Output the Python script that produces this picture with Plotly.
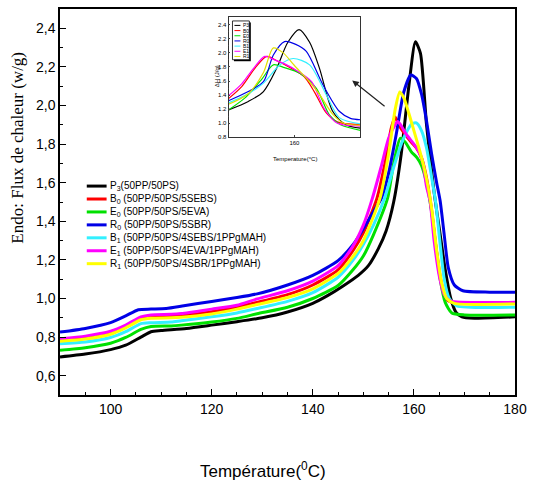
import plotly.graph_objects as go

# ---------------- main DSC data ----------------
NAMES = ["P<sub>3</sub>(50PP/50PS)",
         "B<sub>0</sub> (50PP/50PS/5SEBS)",
         "E<sub>0</sub> (50PP/50PS/5EVA)",
         "R<sub>0</sub> (50PP/50PS/5SBR)",
         "B<sub>1</sub> (50PP/50PS/4SEBS/1PPgMAH)",
         "E<sub>1</sub> (50PP/50PS/4EVA/1PPgMAH)",
         "R<sub>1</sub> (50PP/50PS/4SBR/1PPgMAH)"]
COLORS = ["#000000", "#ff0000", "#00e000", "#0000e6", "#33f0ff", "#ff00ff", "#ffff00"]

P3_T = [90, 95, 100, 103, 106, 108, 110, 115, 120, 125, 130, 135, 140, 143, 146, 149, 151, 153, 154.5, 156,
        157.5, 159, 160.3, 161.3, 162.5, 164, 165.1, 166.2, 167.3, 168.3, 169.5, 172, 180]
P3_V = [0.697, 0.712, 0.735, 0.758, 0.800, 0.828, 0.834, 0.845, 0.862, 0.88, 0.90, 0.93, 0.975, 1.016, 1.065,
        1.12, 1.17, 1.26, 1.35, 1.50, 1.75, 2.10, 2.33, 2.27, 1.90, 1.55, 1.35, 1.15, 1.0, 0.93, 0.905, 0.898, 0.905]

B0_T = [90, 95, 100, 103, 106, 108, 112, 114, 120, 125, 129, 135, 140, 145, 148, 150, 152.7, 154.5, 155.5, 156.3,
        157, 158, 159.5, 160.5, 161.5, 162.3, 163.4, 164.3, 165.3, 166.3, 167.5, 180]
B0_V = [0.785, 0.798, 0.822, 0.852, 0.895, 0.905, 0.908, 0.913, 0.932, 0.955, 0.98, 1.02, 1.07, 1.148, 1.25, 1.34,
        1.52, 1.73, 1.88, 1.94, 1.90, 1.86, 1.81, 1.78, 1.73, 1.65, 1.48, 1.28, 1.10, 1.0, 0.98, 0.975]

E0_T = [90, 95, 100, 103, 106, 108, 112, 114, 120, 125, 129, 135, 140, 145, 148, 150, 152, 154.8, 156, 157.3,
        158.3, 159.5, 160.6, 161.5, 162.5, 163.5, 164.3, 165.2, 166.2, 167.5, 170, 180]
E0_V = [0.732, 0.745, 0.768, 0.798, 0.84, 0.855, 0.858, 0.862, 0.878, 0.897, 0.921, 0.955, 1.0, 1.067, 1.15, 1.22,
        1.33, 1.52, 1.70, 1.83, 1.81, 1.76, 1.73, 1.69, 1.60, 1.45, 1.28, 1.10, 0.98, 0.925, 0.915, 0.915]

R0_T = [90, 95, 100, 103, 105.5, 108, 111, 114.5, 120, 125, 129, 135, 140, 145, 148, 150, 152, 153.6, 155, 156.5,
        158, 159.4, 160.5, 161.5, 162.5, 163.5, 164.5, 165.2, 166, 166.8, 168, 169.7, 175, 180]
R0_V = [0.826, 0.845, 0.875, 0.91, 0.942, 0.945, 0.948, 0.962, 0.985, 1.005, 1.024, 1.07, 1.12, 1.196, 1.28, 1.36,
        1.45, 1.52, 1.65, 1.85, 2.07, 2.158, 2.14, 2.06, 1.92, 1.75, 1.60, 1.505, 1.33, 1.16, 1.07, 1.04, 1.033, 1.032]

B1_T = [90, 95, 100, 103, 106, 108, 112, 114, 120, 125, 129, 135, 140, 145, 148, 150, 152, 154.2, 156, 157.5,
        158.5, 159.6, 160.5, 161.5, 162.5, 163.5, 164.3, 165.2, 166, 167, 168.5, 180]
B1_V = [0.765, 0.775, 0.798, 0.828, 0.87, 0.875, 0.878, 0.885, 0.905, 0.925, 0.948, 0.985, 1.03, 1.11, 1.2, 1.28,
        1.38, 1.52, 1.68, 1.80, 1.86, 1.905, 1.91, 1.87, 1.78, 1.63, 1.50, 1.28, 1.10, 1.0, 0.962, 0.955]

E1_T = [90, 95, 100, 103, 106, 108, 112, 114, 120, 125, 129, 135, 140, 145, 147.8, 150, 151.8, 153.5, 155, 156.3,
        156.8, 157.5, 158.5, 160, 161, 161.8, 162.5, 163.2, 164, 165, 166, 167, 168.5, 180]
E1_V = [0.792, 0.805, 0.83, 0.862, 0.905, 0.915, 0.918, 0.922, 0.945, 0.965, 0.998, 1.04, 1.09, 1.17, 1.265, 1.38,
        1.52, 1.68, 1.83, 1.90, 1.917, 1.895, 1.85, 1.80, 1.76, 1.70, 1.58, 1.505, 1.30, 1.12, 1.02, 0.99, 0.982, 0.98]

R1_T = [90, 95, 100, 103, 106, 108, 112, 114, 120, 125, 129, 135, 140, 145, 148, 150, 153.3, 155, 156.3, 157.2,
        158, 159, 160, 161, 162, 163, 163.6, 164.5, 165.5, 166.5, 168, 180]
R1_V = [0.778, 0.79, 0.815, 0.848, 0.89, 0.898, 0.900, 0.903, 0.92, 0.945, 0.969, 1.005, 1.05, 1.13, 1.22, 1.30,
        1.52, 1.75, 1.98, 2.07, 2.04, 1.96, 1.87, 1.78, 1.68, 1.55, 1.45, 1.25, 1.08, 1.0, 0.975, 0.972]

MAIN_T = [P3_T, B0_T, E0_T, R0_T, B1_T, E1_T, R1_T]
MAIN_V = [P3_V, B0_V, E0_V, R0_V, B1_V, E1_V, R1_V]

X_TICKS = [100, 120, 140, 160, 180]
Y_TICKS = [0.6, 0.8, 1.0, 1.2, 1.4, 1.6, 1.8, 2.0, 2.2, 2.4]
Y_TICK_LABELS = ["0,6", "0,8", "1,0", "1,2", "1,4", "1,6", "1,8", "2,0", "2,2", "2,4"]

# ---------------- inset data ----------------
INSET_NAMES = ["P3", "B0", "E0", "R0", "B1", "E1", "R1"]
IP3_T = [150, 153, 155.3, 157.3, 159, 160.7, 162.3, 163.8, 165.8, 167.8, 170]
IP3_V = [1.19, 1.31, 1.45, 1.78, 2.15, 2.33, 2.15, 1.78, 1.17, 0.98, 0.93]
IB0_T = [150, 152, 154, 155.8, 157.5, 159.5, 161.5, 163, 164.8, 166.5, 170]
IB0_V = [1.35, 1.52, 1.78, 1.95, 1.88, 1.78, 1.66, 1.45, 1.15, 1.02, 0.98]
IE0_T = [150, 152.5, 155, 156.8, 158.5, 160.8, 163.3, 165.3, 167, 170]
IE0_V = [1.19, 1.36, 1.62, 1.83, 1.79, 1.71, 1.50, 1.12, 0.98, 0.90]
IR0_T = [150, 153, 155.3, 156.8, 158.5, 160.2, 161.8, 164.3, 166.8, 168.5, 170]
IR0_V = [1.32, 1.45, 1.59, 1.97, 2.16, 2.12, 2.02, 1.55, 1.17, 1.07, 1.05]
IB1_T = [150, 153, 155.3, 157.8, 159.8, 162.3, 164.8, 166.8, 170]
IB1_V = [1.29, 1.42, 1.57, 1.83, 1.92, 1.83, 1.41, 1.08, 0.99]
IE1_T = [150, 152, 153.8, 155.5, 157, 158.6, 160.5, 162.6, 164.5, 166.5, 170]
IE1_V = [1.39, 1.56, 1.78, 1.95, 1.90, 1.84, 1.74, 1.59, 1.21, 1.0, 0.96]
IR1_T = [150, 153, 155.3, 156.8, 158.3, 160, 162, 163.8, 165.8, 167.5, 170]
IR1_V = [1.27, 1.42, 1.72, 2.07, 2.00, 1.82, 1.62, 1.41, 1.13, 1.0, 0.97]
INSET_T = [IP3_T, IB0_T, IE0_T, IR0_T, IB1_T, IE1_T, IR1_T]
INSET_V = [IP3_V, IB0_V, IE0_V, IR0_V, IB1_V, IE1_V, IR1_V]
INSET_Y_TICKS = [0.8, 1.0, 1.2, 1.4, 1.6, 1.8, 2.0, 2.2, 2.4]

# ---------------- layout geometry (pixels) ----------------
W, H = 534, 485
ML, MR, MT, MB = 60, 15, 7, 90
PW, PH = W - ML - MR, H - MT - MB


def px(xp):
    return (xp - ML) / PW


def py(yp):
    return (H - MB - yp) / PH


SMALL = 6

fig = go.Figure()

for t, v, c in zip(MAIN_T, MAIN_V, COLORS):
    fig.add_trace(go.Scatter(x=t, y=v, mode="lines", line=dict(color=c, width=3, shape="spline", smoothing=0.6),
                             showlegend=False, hoverinfo="skip"))

for t, v, c in zip(INSET_T, INSET_V, COLORS):
    cc = "#e0e000" if c == "#ffff00" else c
    fig.add_trace(go.Scatter(x=t, y=v, mode="lines", xaxis="x2", yaxis="y2",
                             line=dict(color=cc, width=1.2, shape="spline", smoothing=0.8),
                             showlegend=False, hoverinfo="skip"))

shapes = []
annotations = []

# main legend
for i, (name, c) in enumerate(zip(NAMES, COLORS)):
    yy = py(185 + 13 * i)
    shapes.append(dict(type="line", xref="paper", yref="paper", x0=px(87), x1=px(107), y0=yy, y1=yy,
                       line=dict(color=c, width=3)))
    annotations.append(dict(xref="paper", yref="paper", x=px(108), y=yy, text=name, showarrow=False,
                            xanchor="left", yanchor="middle",
                            font=dict(family="Liberation Sans, Arial", size=10, color="#000")))

# inset legend box
shapes.append(dict(type="rect", xref="paper", yref="paper", x0=px(235.5), x1=px(252.5), y0=py(59.5), y1=py(20.5),
                   fillcolor="#000", line=dict(width=0), layer="above"))
shapes.append(dict(type="rect", xref="paper", yref="paper", x0=px(234), x1=px(251), y0=py(58), y1=py(19),
                   fillcolor="#fff", line=dict(color="#000", width=0.8), layer="above"))
for i, (name, c) in enumerate(zip(INSET_NAMES, COLORS)):
    yy = py(23.5 + 5.2 * i)
    cc = "#e0e000" if c == "#ffff00" else c
    shapes.append(dict(type="line", xref="paper", yref="paper", x0=px(236), x1=px(242), y0=yy, y1=yy,
                       line=dict(color=cc, width=1), layer="above"))
    annotations.append(dict(xref="paper", yref="paper", x=px(242.5), y=yy, text=name, showarrow=False,
                            xanchor="left", yanchor="middle",
                            font=dict(family="Liberation Sans, Arial", size=5, color="#000")))

# inset axis titles
annotations.append(dict(xref="paper", yref="paper", x=px(297), y=py(158), text="Temperature(°C)", showarrow=False,
                        xanchor="center", yanchor="middle",
                        font=dict(family="Liberation Sans, Arial", size=SMALL, color="#000")))
annotations.append(dict(xref="paper", yref="paper", x=px(218), y=py(75), text="ΔH (J/g)", showarrow=False,
                        textangle=-90, xanchor="center", yanchor="middle",
                        font=dict(family="Liberation Sans, Arial", size=SMALL, color="#000")))

# arrow pointing to the inset
annotations.append(dict(xref="x", yref="y", axref="x", ayref="y", x=147.8, y=2.13, ax=154.5, ay=1.99,
                        text="", showarrow=True, arrowhead=2, arrowsize=1.1, arrowwidth=1.2, arrowcolor="#222"))

# main axis titles
annotations.append(dict(xref="paper", yref="paper", x=px(265), y=py(470), text="Température(<sup>0</sup>C)",
                        showarrow=False, xanchor="center", yanchor="middle",
                        font=dict(family="Liberation Sans, Arial", size=17, color="#000")))
annotations.append(dict(xref="paper", yref="paper", x=px(17), y=py(146), text="Endo: Flux de chaleur (w/g)",
                        showarrow=False, textangle=-90, xanchor="center", yanchor="middle",
                        font=dict(family="Liberation Serif, Times New Roman", size=17, color="#000")))

fig.update_layout(
    width=W, height=H,
    margin=dict(l=ML, r=MR, t=MT, b=MB),
    paper_bgcolor="white", plot_bgcolor="white",
    showlegend=False,
    shapes=shapes, annotations=annotations,
    xaxis=dict(range=[90, 180], tickvals=X_TICKS, ticks="inside", ticklen=6, tickwidth=1.2, tickcolor="#000",
               showline=True, linecolor="#000", linewidth=1.5, mirror=True, showgrid=False, zeroline=False,
               tickfont=dict(family="Liberation Sans, Arial", size=14, color="#000"),
               minor=dict(dtick=5, ticks="inside", ticklen=3.5, tickwidth=1.2, tickcolor="#000", showgrid=False)),
    yaxis=dict(range=[0.5, 2.5], tickvals=Y_TICKS, ticktext=Y_TICK_LABELS, ticks="inside", ticklen=6,
               tickwidth=1.2, tickcolor="#000",
               showline=True, linecolor="#000", linewidth=1.5, mirror=True, showgrid=False, zeroline=False,
               tickfont=dict(family="Liberation Sans, Arial", size=14, color="#000"),
               minor=dict(dtick=0.1, tick0=0.5, ticks="inside", ticklen=3.5, tickwidth=1.2, tickcolor="#000",
                          showgrid=False)),
    xaxis2=dict(domain=[px(230), px(363)], anchor="y2", range=[150, 170], tickvals=[160], ticks="inside",
                ticklen=2, tickwidth=0.6, showline=True, linecolor="#333", linewidth=0.8, mirror=True,
                showgrid=False, zeroline=False, tickfont=dict(family="Liberation Sans, Arial", size=SMALL, color="#000")),
    yaxis2=dict(domain=[py(136), py(15)], anchor="x2", range=[0.8, 2.51], tickvals=INSET_Y_TICKS, tickformat=".1f",
                ticks="inside", ticklen=2, tickwidth=0.6, showline=True, linecolor="#333", linewidth=0.8,
                mirror=True, showgrid=False, zeroline=False,
                tickfont=dict(family="Liberation Sans, Arial", size=SMALL, color="#000"),
                minor=dict(dtick=0.1, ticks="inside", ticklen=1, tickwidth=0.5)),
)

fig.write_html("out.html")
